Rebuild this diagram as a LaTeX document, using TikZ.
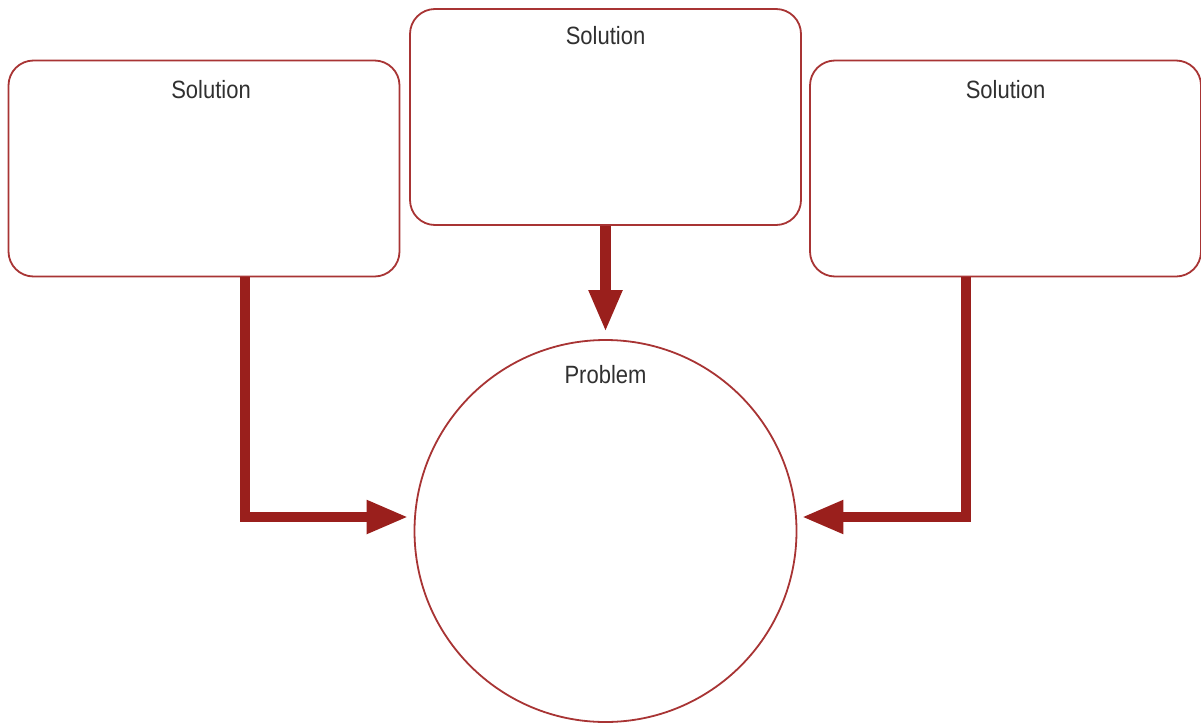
\documentclass[tikz,border=0pt]{standalone}
\usepackage{fontspec}
\setmainfont[FakeStretch=0.88]{Liberation Sans}
\usetikzlibrary{arrows.meta}
\definecolor{boxred}{HTML}{A83434}
\definecolor{arrred}{HTML}{9A1F1C}
\definecolor{txtgray}{HTML}{303030}
\tikzset{
  solbox/.style={draw=boxred, line width=1.8pt, rounded corners=25pt, minimum width=391pt, minimum height=216pt, inner sep=0pt},
  probcircle/.style={draw=boxred, line width=1.8pt, circle, minimum size=382pt, inner sep=0pt},
  lbl/.style={text=txtgray, font=\fontsize{25pt}{29pt}\selectfont, inner sep=0pt},
  arr/.style={draw=arrred, line width=10.5pt, -{Triangle[length=42pt,width=31pt]}}
}
\begin{document}
\begin{tikzpicture}[x=1pt,y=-1pt]
\useasboundingbox[fill=white] (0,0) rectangle (1201,723);
\node[solbox] (s1) at (204,168.5) {};
\node[solbox] (s2) at (605.5,117) {};
\node[solbox] (s3) at (1005.5,168.5) {};
\node[probcircle] (p) at (605.5,531) {};
\node[lbl] (t1) at ([xshift=7pt,yshift=-30pt]s1.north) {Solution};
\node[lbl] (t2) at ([yshift=-27pt]s2.north) {Solution};
\node[lbl] (t3) at ([yshift=-30pt]s3.north) {Solution};
\node[lbl] (t4) at ([yshift=-35pt]p.north) {Problem};
\draw[arr, shorten >=7pt] (s2.south) -- (p.north);
\draw[arr, shorten >=5pt] ([xshift=237.5pt]s1.south west) |- ([yshift=14pt]p.west);
\draw[arr, shorten >=4pt] ([xshift=-236pt]s3.south east) |- ([yshift=14pt]p.east);
\end{tikzpicture}
\end{document}
